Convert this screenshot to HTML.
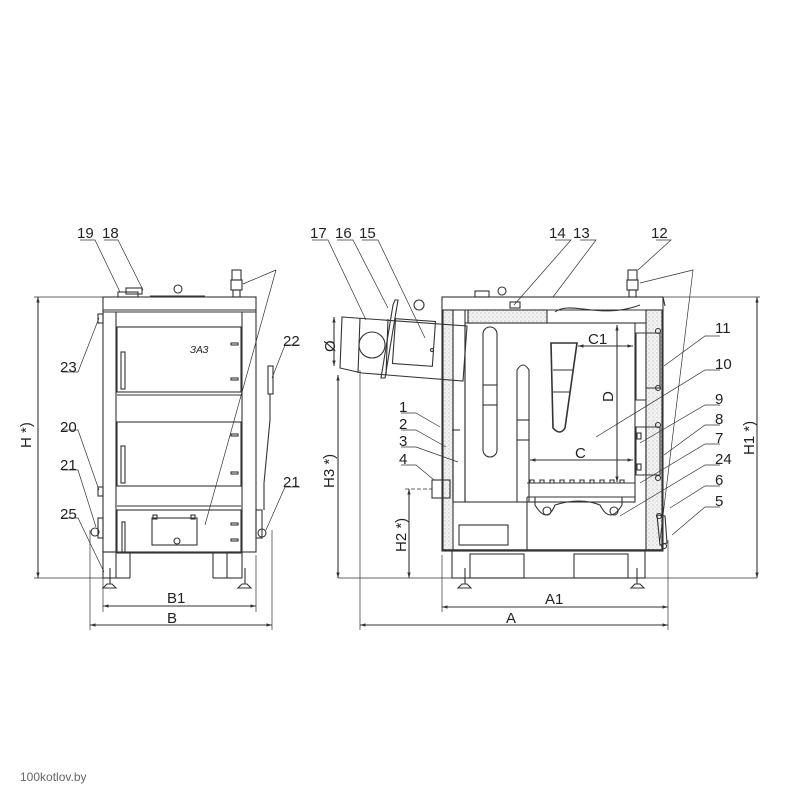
<!DOCTYPE html>
<html><head><meta charset="utf-8"><style>
html,body{margin:0;padding:0;background:#fff}
svg{display:block}
text{font-family:"Liberation Sans",sans-serif;font-size:15px;fill:#222}
</style></head><body>
<svg width="801" height="801" viewBox="0 0 801 801" xmlns="http://www.w3.org/2000/svg">
<defs>
<pattern id="ins" width="4" height="4" patternUnits="userSpaceOnUse"><rect width="4" height="4" fill="#f2f2f2"/><circle cx="1" cy="1" r="0.5" fill="#999"/><circle cx="3" cy="3" r="0.4" fill="#aaa"/></pattern>
<marker id="ar" viewBox="0 0 10 10" refX="10" refY="5" markerWidth="7" markerHeight="5" orient="auto-start-reverse"><path d="M0,2 L10,5 L0,8 z" fill="#333"/></marker>
</defs>
<g fill="none" stroke="#333" stroke-width="1.1">
<rect x="103" y="297" width="153" height="255"/>
<line x1="103" y1="312" x2="256" y2="312"/>
<line x1="103" y1="310" x2="256" y2="310"/>
<line x1="116" y1="312" x2="116" y2="552"/>
<line x1="242" y1="312" x2="242" y2="552"/>
<rect x="118" y="292" width="20" height="5"/>
<rect x="126" y="288" width="16" height="6"/>
<circle cx="178" cy="289" r="4"/>
<line x1="150" y1="296" x2="205" y2="296"/>
<rect x="232" y="270" width="9" height="10"/>
<rect x="231" y="280" width="11" height="10"/>
<rect x="233" y="290" width="7" height="7"/>
<rect x="117" y="327" width="124" height="65"/>
<rect x="117" y="422" width="124" height="64"/>
<rect x="117" y="510" width="124" height="43"/>
<line x1="117" y1="395" x2="241" y2="395"/>
<line x1="117" y1="506" x2="241" y2="506"/>
<rect x="121" y="352" width="4" height="37"/>
<rect x="121" y="446" width="4" height="37"/>
<rect x="122" y="522" width="3" height="30"/>
<rect x="231" y="343" width="7" height="2"/><rect x="231" y="378" width="7" height="2"/>
<rect x="231" y="434" width="7" height="2"/><rect x="231" y="472" width="7" height="2"/>
<rect x="231" y="523" width="7" height="2"/><rect x="231" y="539" width="7" height="2"/>
<rect x="152" y="518" width="45" height="27"/>
<rect x="153" y="515" width="4" height="4"/><rect x="191" y="515" width="4" height="4"/>
<circle cx="177" cy="541" r="3"/>
<rect x="98" y="314" width="5" height="9"/>
<rect x="98" y="487" width="5" height="9"/>
<rect x="98" y="518" width="5" height="20"/>
<rect x="256" y="510" width="6" height="28"/>
<circle cx="95" cy="532" r="4"/>
<circle cx="262" cy="533" r="4"/>
<rect x="268" y="366" width="5" height="28"/>
<path d="M270 394 L270 420 L264 483 L264 510"/>
<rect x="103" y="552" width="13" height="26"/>
<rect x="227" y="552" width="15" height="26"/>
<line x1="116" y1="578" x2="130" y2="578"/><line x1="130" y1="552" x2="130" y2="578"/>
<line x1="227" y1="578" x2="213" y2="578"/><line x1="213" y1="552" x2="213" y2="578"/>
<path d="M103 588 L116 588 L112 584 L107 584 Z"/><line x1="110" y1="568" x2="110" y2="584"/>
<path d="M238 588 L251 588 L247 584 L242 584 Z"/><line x1="245" y1="568" x2="245" y2="584"/>
<line x1="34" y1="297" x2="103" y2="297" stroke-width="0.7"/>
<line x1="34" y1="578" x2="103" y2="578" stroke-width="0.7"/>
<line x1="38" y1="297" x2="38" y2="578" marker-start="url(#ar)" marker-end="url(#ar)"/>
<line x1="103" y1="555" x2="103" y2="612" stroke-width="0.7"/>
<line x1="256" y1="555" x2="256" y2="612" stroke-width="0.7"/>
<line x1="103" y1="606" x2="256" y2="606" marker-start="url(#ar)" marker-end="url(#ar)"/>
<line x1="90" y1="530" x2="90" y2="630" stroke-width="0.7"/>
<line x1="272" y1="530" x2="272" y2="630" stroke-width="0.7"/>
<line x1="90" y1="625" x2="272" y2="625" marker-start="url(#ar)" marker-end="url(#ar)"/>
<path d="M80 240 L95 240 L120 292" stroke-width="0.7"/>
<path d="M104 240 L118 240 L143 290" stroke-width="0.7"/>
<path d="M62 372 L78 372 L99 318" stroke-width="0.7"/>
<path d="M62 430 L78 430 L99 490" stroke-width="0.7"/>
<path d="M62 470 L78 470 L96 527" stroke-width="0.7"/>
<path d="M62 518 L78 518 L104 572" stroke-width="0.7"/>
<path d="M300 345 L285 345 L272 378" stroke-width="0.7"/>
<path d="M300 487 L285 487 L266 530" stroke-width="0.7"/>
<path d="M243 284 L276 270 M276 270 L205 525" stroke-width="0.7"/>

<rect x="442" y="297" width="221" height="254"/>
<rect x="443" y="310" width="10" height="240" fill="url(#ins)"/>
<rect x="646" y="310" width="16" height="240" fill="url(#ins)"/>
<rect x="453" y="310" width="12" height="192"/>
<rect x="465" y="323" width="170" height="179"/>
<line x1="635" y1="323" x2="646" y2="323"/>
<rect x="468" y="310" width="79" height="13" fill="url(#ins)"/>
<line x1="453" y1="310" x2="646" y2="310"/>
<path d="M442 297 L663 297 L665 306" />
<path d="M555 312 C 570 300 600 320 640 305"/>
<rect x="475" y="291" width="14" height="6"/>
<circle cx="502" cy="291" r="4"/>
<rect x="510" y="302" width="10" height="6"/>
<rect x="628" y="270" width="9" height="10"/>
<rect x="627" y="280" width="11" height="10"/>
<rect x="629" y="290" width="7" height="7"/>
<path d="M646 333 L636 333 L636 400 L646 400"/>
<path d="M646 333 L660 333 L660 388 L646 388 Z" fill="url(#ins)"/>
<path d="M646 427 L660 427 L660 475 L646 475 Z" fill="url(#ins)"/>
<path d="M636 427 L646 427 L646 475 L636 475 Z"/>
<rect x="637" y="433" width="4" height="6"/><rect x="637" y="464" width="4" height="6"/>
<circle cx="658" cy="331" r="2.5"/><circle cx="658" cy="388" r="2.5"/>
<circle cx="658" cy="425" r="2.5"/><circle cx="658" cy="478" r="2.5"/>
<circle cx="659" cy="516" r="2.5"/><circle cx="664" cy="546" r="2.5"/>
<path d="M657 515 L665 516 L667 543 L660 545 Z"/>
<rect x="483" y="327" width="14" height="130" rx="7"/>
<line x1="483" y1="385" x2="497" y2="385"/><line x1="483" y1="405" x2="497" y2="405"/>
<path d="M517 502 L517 370 Q523 360 529 370 L529 502"/>
<line x1="517" y1="420" x2="529" y2="420"/><line x1="517" y1="440" x2="529" y2="440"/>
<path d="M551 343 L577 343 L565 428 Q560 436 553 428 Z" stroke-width="1.6"/>
<line x1="553" y1="370" x2="573" y2="370"/><line x1="553" y1="392" x2="570" y2="392"/>
<path d="M527 483 L635 483 M527 497 L635 497"/>
<path d="M530 483 l0 -3 l4 0 l0 3 M540 483 l0 -3 l4 0 l0 3 M550 483 l0 -3 l4 0 l0 3 M560 483 l0 -3 l4 0 l0 3 M570 483 l0 -3 l4 0 l0 3 M580 483 l0 -3 l4 0 l0 3 M590 483 l0 -3 l4 0 l0 3 M600 483 l0 -3 l4 0 l0 3 M610 483 l0 -3 l4 0 l0 3 M620 483 l0 -3 l4 0 l0 3"/>
<path d="M535 497 L535 505 Q547 525 555 505 Q580 497 600 505 Q610 525 622 505 L622 497"/>
<circle cx="547" cy="511" r="4"/><circle cx="614" cy="511" r="4"/>
<line x1="453" y1="502" x2="527" y2="502"/>
<line x1="527" y1="497" x2="527" y2="550"/>
<rect x="459" y="525" width="49" height="20"/>
<line x1="442" y1="550" x2="663" y2="550" stroke-width="1.5"/>
<rect x="452" y="551" width="193" height="27"/>
<rect x="470" y="554" width="54" height="24"/>
<rect x="574" y="554" width="54" height="24"/>
<path d="M458 588 L471 588 L467 584 L462 584 Z"/><line x1="465" y1="568" x2="465" y2="584"/>
<path d="M631 588 L644 588 L640 584 L635 584 Z"/><line x1="637" y1="568" x2="637" y2="584"/>
<path d="M342 317 L467 326 L463 381 L362 373 L340 368 Z"/>
<line x1="360" y1="318" x2="358" y2="373"/>
<line x1="388" y1="319" x2="386" y2="375"/>
<path d="M393 305 L395 300 L398 300 L385 378 L381 378 Z"/>
<circle cx="372" cy="345" r="13"/>
<rect x="394" y="320" width="40" height="45" transform="rotate(4 414 342)"/>
<circle cx="419" cy="305" r="5"/>
<circle cx="432" cy="350" r="1.5"/>
<line x1="453" y1="381" x2="453" y2="502"/>
<rect x="432" y="480" width="18" height="18"/>
<line x1="452" y1="430" x2="460" y2="430"/>
<line x1="338" y1="578" x2="757" y2="578" stroke-width="0.7"/>
<line x1="334" y1="317" x2="334" y2="366" marker-start="url(#ar)" marker-end="url(#ar)"/>
<line x1="338" y1="375" x2="338" y2="578" marker-start="url(#ar)" marker-end="url(#ar)"/>
<line x1="409" y1="489" x2="409" y2="578" marker-start="url(#ar)" marker-end="url(#ar)"/>
<line x1="405" y1="489" x2="432" y2="489" stroke-dasharray="4 2" stroke-width="0.7"/>
<line x1="663" y1="297" x2="760" y2="297" stroke-width="0.7"/>
<line x1="757" y1="297" x2="757" y2="578" marker-start="url(#ar)" marker-end="url(#ar)"/>
<line x1="442" y1="555" x2="442" y2="612" stroke-width="0.7"/>
<line x1="668" y1="540" x2="668" y2="630" stroke-width="0.7"/>
<line x1="360" y1="370" x2="360" y2="630" stroke-width="0.7"/>
<line x1="442" y1="607" x2="668" y2="607" marker-start="url(#ar)" marker-end="url(#ar)"/>
<line x1="360" y1="625" x2="668" y2="625" marker-start="url(#ar)" marker-end="url(#ar)"/>
<line x1="578" y1="346" x2="633" y2="346" marker-start="url(#ar)" marker-end="url(#ar)"/>
<line x1="530" y1="460" x2="633" y2="460" marker-start="url(#ar)" marker-end="url(#ar)"/>
<line x1="617" y1="325" x2="617" y2="482" marker-start="url(#ar)" marker-end="url(#ar)"/>
<path d="M312 240 L328 240 L366 320" stroke-width="0.7"/>
<path d="M337 240 L353 240 L388 308" stroke-width="0.7"/>
<path d="M362 240 L378 240 L425 338" stroke-width="0.7"/>
<path d="M555 240 L571 240 L514 305" stroke-width="0.7"/>
<path d="M580 240 L596 240 L553 297" stroke-width="0.7"/>
<path d="M656 240 L671 240 L638 270" stroke-width="0.7"/>
<path d="M640 283 L693 270 L660 540" stroke-width="0.7"/>
<path d="M401 413 L416 413 L440 427" stroke-width="0.7"/>
<path d="M401 430 L416 430 L446 447" stroke-width="0.7"/>
<path d="M401 447 L416 447 L458 462" stroke-width="0.7"/>
<path d="M401 465 L416 465 L434 480" stroke-width="0.7"/>
<path d="M720 336 L705 336 L664 366" stroke-width="0.7"/>
<path d="M720 370 L705 370 L596 437" stroke-width="0.7"/>
<path d="M720 405 L705 405 L640 443" stroke-width="0.7"/>
<path d="M720 425 L705 425 L664 455" stroke-width="0.7"/>
<path d="M720 444 L705 444 L640 483" stroke-width="0.7"/>
<path d="M720 465 L705 465 L620 516" stroke-width="0.7"/>
<path d="M720 486 L705 486 L670 508" stroke-width="0.7"/>
<path d="M720 507 L705 507 L672 535" stroke-width="0.7"/>
</g>
<text x="190" y="353" style="font-size:10px;font-style:italic">ЗАЗ</text>
<g>
<text x="77" y="238">19</text><text x="102" y="238">18</text>
<text x="60" y="372">23</text><text x="60" y="432">20</text><text x="60" y="470">21</text><text x="60" y="519">25</text>
<text x="283" y="346">22</text><text x="283" y="487">21</text>
<text x="167" y="603">B1</text><text x="167" y="623">B</text>
<text x="310" y="238">17</text><text x="335" y="238">16</text><text x="359" y="238">15</text>
<text x="549" y="238">14</text><text x="573" y="238">13</text><text x="651" y="238">12</text>
<text x="715" y="333">11</text><text x="715" y="369">10</text><text x="715" y="404">9</text>
<text x="715" y="424">8</text><text x="715" y="443">7</text><text x="715" y="464">24</text>
<text x="715" y="485">6</text><text x="715" y="506">5</text>
<text x="399" y="412">1</text><text x="399" y="429">2</text><text x="399" y="446">3</text><text x="399" y="464">4</text>
<text x="588" y="344">C1</text><text x="575" y="458">C</text>
<text transform="translate(613,402) rotate(-90)">D</text>
<text transform="translate(335,352) rotate(-90)">Ø</text>
<text transform="translate(334,488) rotate(-90)">H3 *)</text>
<text transform="translate(406,552) rotate(-90)">H2 *)</text>
<text transform="translate(754,455) rotate(-90)">H1 *)</text>
<text transform="translate(31,448) rotate(-90)">H *)</text>
<text x="545" y="604">A1</text><text x="506" y="623">A</text>
<text x="20" y="781" style="font-size:12px;fill:#666">100kotlov.by</text>
</g>
</svg>
</body></html>
